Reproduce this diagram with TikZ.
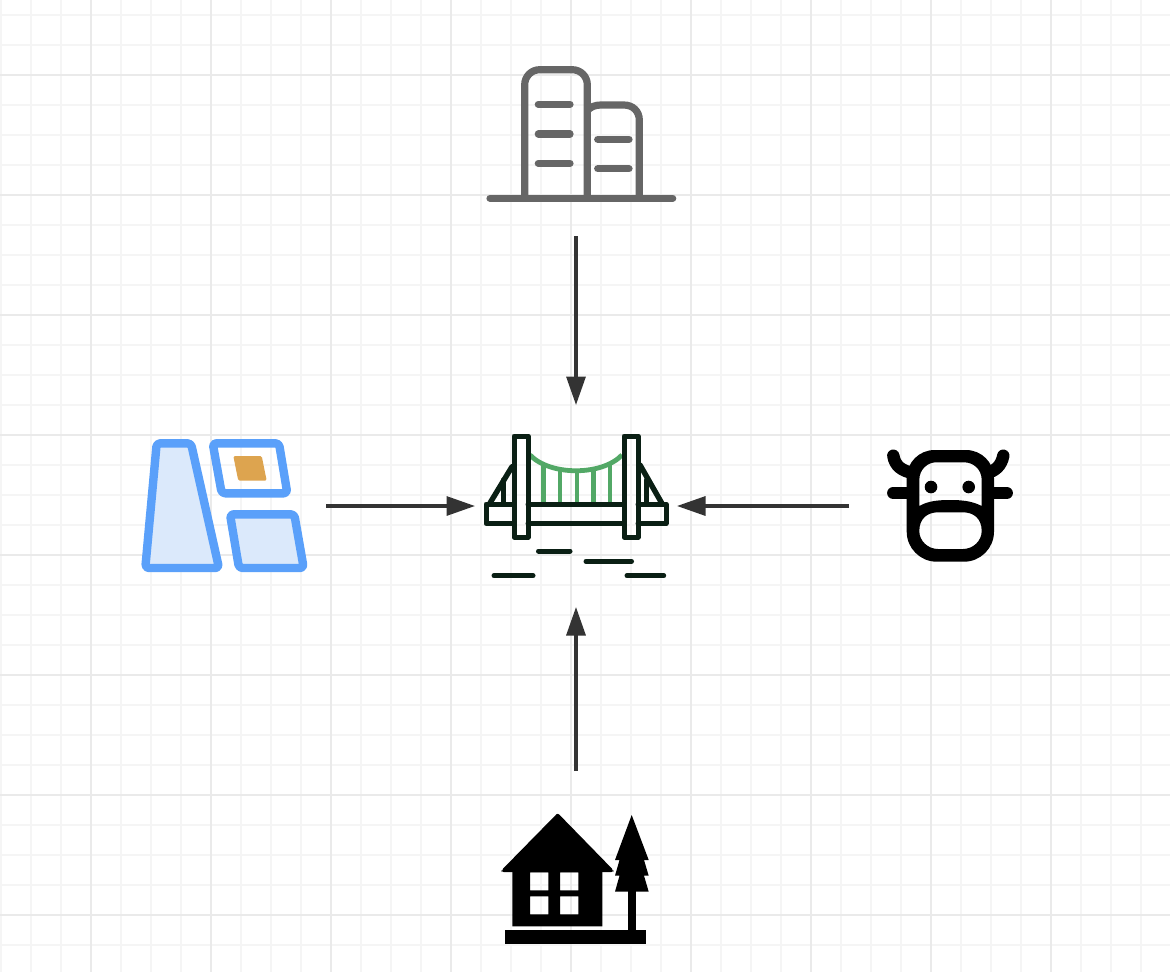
\documentclass[tikz,border=0pt]{standalone}
\usetikzlibrary{arrows.meta}
\definecolor{gridminor}{HTML}{F5F5F5}
\definecolor{gridmajor}{HTML}{EAEAEA}
\definecolor{linkdark}{HTML}{333333}
\definecolor{bridgedark}{HTML}{0A1F14}
\definecolor{bridgegreen}{HTML}{52A866}
\definecolor{parkblue}{HTML}{5AA0FA}
\definecolor{parkfill}{HTML}{DBE9FB}
\definecolor{parkorange}{HTML}{DDA44F}
\definecolor{citygrey}{HTML}{666666}
\tikzset{
  slot/.style={inner sep=0pt,outer sep=0pt,minimum width=#1,minimum height=#1},
  link/.style={draw=linkdark,line width=3.2pt,-{Triangle[length=28.5pt,width=19pt,color=linkdark]}},
  minorgrid/.style={draw=gridminor,line width=2pt},
  majorgrid/.style={draw=gridmajor,line width=2.6pt},
  bridgeline/.style={draw=bridgedark,line width=5pt,line cap=round,line join=round},
  stayline/.style={draw=bridgedark,line width=5.4pt,line cap=round},
  hanger/.style={draw=bridgegreen,line width=4.4pt},
  water/.style={draw=bridgedark,line width=5pt,line cap=round},
  parkshape/.style={draw=parkblue,line width=8.4pt,line join=round,rounded corners=3.5pt},
  cityline/.style={draw=citygrey,line width=7.2pt,line cap=round,line join=round},
  cityedge/.style={draw=citygrey,line width=7.2pt},
  cowline/.style={draw=black,line width=12.4pt,line cap=round}
}
\begin{document}
\begin{tikzpicture}[x=1pt,y=-1pt]
\useasboundingbox (0,0) rectangle (1170,972);
\fill[white] (0,0) rectangle (1170,972);
% grid
\foreach \k in {0,...,39}{\draw[minorgrid] ({1+30*\k},0) -- ({1+30*\k},972);}
\foreach \k in {0,...,32}{\draw[minorgrid] (0,{15+30*\k}) -- (1170,{15+30*\k});}
\foreach \k in {0,...,9}{\draw[majorgrid] ({91+120*\k},0) -- ({91+120*\k},972);}
\foreach \k in {0,...,7}{\draw[majorgrid] (0,{75+120*\k}) -- (1170,{75+120*\k});}
% anchor nodes (invisible slots around the icons)
\node[slot=200pt] (city) at (576,136) {};
\node[slot=202pt] (bridge) at (576,506) {};
\node[slot=200pt] (farm) at (576,871) {};
\node[slot=200pt] (park) at (226,506) {};
\node[slot=202pt] (cow) at (950,506) {};
% connectors
\draw[link] (city.south) -- (bridge.north);
\draw[link] (farm.north) -- (bridge.south);
\draw[link] (park.east) -- (bridge.west);
\draw[link] (cow.west) -- (bridge.east);
% city
\draw[cityedge,rounded corners=15pt] (524.7,198) -- (524.7,69.7) -- (587.3,69.7) -- (587.3,198);
\draw[cityedge] (587.3,110.5) .. controls (591,106.8) and (595,105) .. (601,105) -- (624,105)
  .. controls (633,105) and (639.3,111.5) .. (639.3,120) -- (639.3,198);
\draw[cityline] (490,198.3) -- (672.7,198.3);
\foreach \y in {104.3,134,163.3}{\draw[cityline] (538.3,\y) -- (570,\y);}
\foreach \y in {139.3,168.7}{\draw[cityline] (597.7,\y) -- (629,\y);}
% bridge
\draw[draw=bridgegreen,line width=4.8pt] (530,455) .. controls (550,476) and (602,476) .. (622,455);
\foreach \x/\y in {543.3/465,560/469.5,576.7/471,593.3/469.5,610/465}{\draw[hanger] (\x,\y) -- (\x,503);}
\draw[stayline] (512,466.7) -- (490,503);
\draw[stayline] (503.3,480) -- (503.3,503);
\draw[stayline] (640,465) -- (661.7,503);
\draw[stayline] (646.7,480) -- (646.7,503);
\draw[bridgeline] (514,504) -- (486,504) -- (486,523.5) -- (514,523.5);
\draw[bridgeline] (528,504) -- (624,504);
\draw[bridgeline] (528,523.5) -- (624,523.5);
\draw[bridgeline] (638,504) -- (666,504) -- (666,523.5) -- (638,523.5);
\draw[bridgeline] (514,436) rectangle (528,537);
\draw[bridgeline] (624,436) rectangle (638,537);
\draw[water] (538.5,551) -- (570,551);
\draw[water] (586,561.3) -- (631.5,561.3);
\draw[water] (494,575.7) -- (533,575.7);
\draw[water] (627,575.7) -- (663.7,575.7);
% park
\draw[parkshape,fill=parkfill] (156.7,443.3) -- (191,443.3) -- (219,568) -- (145.3,568) -- cycle;
\draw[parkshape] (212.7,443.3) -- (279,443.3) -- (287.3,493.3) -- (221.7,493.3) -- cycle;
\draw[parkshape,fill=parkfill] (230,514.3) -- (294.3,514.3) -- (303.7,568) -- (239,568) -- cycle;
\fill[parkorange,rounded corners=1.5pt] (233.3,456) -- (261.7,456) -- (266.7,480.7) -- (238.3,480.7) -- cycle;
% cow
\draw[cowline] (893.3,493) -- (908,493);
\draw[cowline] (992,493) -- (1006.7,493);
\draw[cowline] (893.3,455.7) .. controls (895,466) and (902,471) .. (913,473);
\draw[cowline] (1003.3,455.7) .. controls (1001.3,466) and (995,471) .. (987,473);
\fill[black,even odd rule]
  (906.7,478) .. controls (906.7,462.5) and (919,450) .. (934.7,450) -- (966,450)
  .. controls (981.5,450) and (994,462.5) .. (994,478) -- (994,531.7)
  .. controls (994,548.2) and (980.5,561.7) .. (964,561.7) -- (936.7,561.7)
  .. controls (920.2,561.7) and (906.7,548.2) .. (906.7,531.7) -- cycle
  (919.3,480) .. controls (919.3,469) and (928,462.3) .. (936,462.3) -- (964,462.3)
  .. controls (973,462.3) and (981.7,469) .. (981.7,480) -- (981.7,506)
  .. controls (972,501) and (962,500) .. (950,500) .. controls (938,500) and (928,501) .. (919.3,506) -- cycle
  (919.3,531) .. controls (919.3,518) and (928,512.3) .. (938,512.3) -- (963,512.3)
  .. controls (973,512.3) and (981.7,518) .. (981.7,531)
  .. controls (981.7,541) and (973,549) .. (963,549) -- (938,549)
  .. controls (928,549) and (919.3,541) .. (919.3,531) -- cycle;
\fill[black] (931,487) circle[radius=6.3pt];
\fill[black] (968.7,487) circle[radius=6.3pt];
% farm
\fill[black,rounded corners=2pt] (557.7,813) -- (613.3,870) -- (613.3,872) -- (501.7,872) -- (501.7,870) -- cycle;
\fill[black,even odd rule] (512.3,870) rectangle (602.3,926.3)
  (530,872.3) rectangle (548.3,890.3) (560,872.3) rectangle (578.3,890.3)
  (530,896.3) rectangle (548.3,914.3) (560,896.3) rectangle (578.3,914.3);
\fill[black] (505,930.3) rectangle (645.7,943.7);
\fill[black] (628.3,885) rectangle (635.7,931);
\fill[black] (631.7,815) -- (648.7,860) -- (644,860) -- (648.7,875.7) -- (644,875.7) -- (648.7,891.7)
  -- (615,891.7) -- (619.5,875.7) -- (615,875.7) -- (619.5,860) -- (615,860) -- cycle;
\end{tikzpicture}
\end{document}
